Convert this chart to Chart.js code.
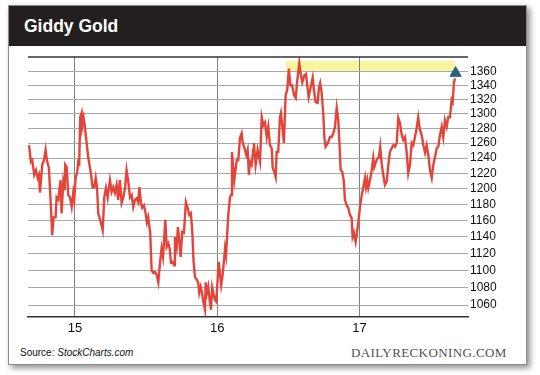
<!DOCTYPE html>
<html>
<head>
<meta charset="utf-8">
<script src="https://cdn.jsdelivr.net/npm/chart.js@4.4.1/dist/chart.umd.min.js"></script>
<style>
  body { margin: 0; background: #fff; width: 540px; height: 375px; position: relative; overflow: hidden; }
  .carte { position: absolute; left: 8px; top: 5px; width: 517px; height: 358px; border: 1px solid #8c8c8c;
           background: #fff; box-shadow: 3px 3px 6px rgba(0,0,0,0.45); }
  .entete { position: absolute; left: 0; top: 0; right: 0; height: 40px; background: #231f20; }
  .titre { position: absolute; left: 24px; top: 18px; font: bold 17.5px "Liberation Sans", Arial, sans-serif;
           line-height: 17.5px; color: #fff; }
  .source { position: absolute; left: 20px; top: 347px; font: 10px "Liberation Sans", Arial, sans-serif; color: #111; }
  .marque { position: absolute; left: 351px; top: 345px; font: 13px "Liberation Serif", "Times New Roman", serif;
            letter-spacing: 0.4px; color: #505050; }
  canvas { position: absolute; left: 0; top: 0; }
</style>
</head>
<body>
<div class="carte"><div class="entete"></div></div>
<div class="titre">Giddy Gold</div>
<div class="source">Source: <i>StockCharts.com</i></div>
<div class="marque">DAILYRECKONING.COM</div>
<canvas id="graphique-or" width="540" height="375"></canvas>
<script>
// Dates en années décimales (15 = 2015), prix de l'or en $
const dates = [
  14.677, 14.691, 14.700, 14.714, 14.726, 14.738, 14.747, 14.754, 14.770, 14.782,
  14.794, 14.803, 14.817, 14.831, 14.840, 14.850, 14.864, 14.871, 14.883, 14.892,
  14.899, 14.906, 14.918, 14.928, 14.932, 14.942, 14.953, 14.965, 14.977, 14.988,
  14.995, 15.005, 15.016, 15.023, 15.030, 15.037, 15.047, 15.051, 15.061, 15.070,
  15.082, 15.094, 15.105, 15.112, 15.124, 15.136, 15.146, 15.155, 15.164, 15.183,
  15.195, 15.206, 15.218, 15.230, 15.246, 15.258, 15.269, 15.281, 15.293, 15.304,
  15.316, 15.328, 15.340, 15.352, 15.363, 15.375, 15.387, 15.399, 15.410, 15.422,
  15.434, 15.445, 15.453, 15.464, 15.473, 15.485, 15.497, 15.506, 15.515, 15.529,
  15.539, 15.550, 15.562, 15.574, 15.586, 15.598, 15.609, 15.619, 15.628, 15.635,
  15.645, 15.656, 15.666, 15.675, 15.687, 15.698, 15.703, 15.715, 15.724, 15.733,
  15.743, 15.754, 15.766, 15.773, 15.780, 15.792, 15.804, 15.815, 15.825, 15.834,
  15.844, 15.858, 15.867, 15.874, 15.884, 15.893, 15.902, 15.914, 15.919, 15.928,
  15.937, 15.947, 15.956, 15.965, 15.975, 15.984, 15.993, 16.003, 16.010, 16.019,
  16.028, 16.038, 16.047, 16.055, 16.062, 16.069, 16.078, 16.090, 16.097, 16.104,
  16.111, 16.120, 16.137, 16.148, 16.160, 16.172, 16.179, 16.188, 16.195, 16.204,
  16.214, 16.223, 16.230, 16.242, 16.253, 16.258, 16.270, 16.284, 16.301, 16.313,
  16.324, 16.336, 16.348, 16.359, 16.371, 16.383, 16.390, 16.401, 16.411, 16.418,
  16.429, 16.441, 16.448, 16.457, 16.469, 16.481, 16.492, 16.504, 16.514, 16.526,
  16.540, 16.552, 16.563, 16.577, 16.589, 16.598, 16.612, 16.624, 16.633, 16.643,
  16.657, 16.671, 16.680, 16.692, 16.706, 16.715, 16.724, 16.734, 16.746, 16.753,
  16.762, 16.776, 16.793, 16.805, 16.816, 16.828, 16.840, 16.851, 16.861, 16.868,
  16.879, 16.889, 16.898, 16.910, 16.921, 16.933, 16.945, 16.952, 16.961, 16.973,
  16.980, 16.992, 17.004, 17.016, 17.027, 17.039, 17.046, 17.055, 17.062, 17.074,
  17.086, 17.097, 17.104, 17.116, 17.128, 17.137, 17.146, 17.156, 17.167, 17.179,
  17.191, 17.203, 17.214, 17.226, 17.238, 17.250, 17.262, 17.273, 17.285, 17.297,
  17.308, 17.320, 17.332, 17.343, 17.355, 17.367, 17.378, 17.390, 17.402, 17.413,
  17.425, 17.437, 17.449, 17.461, 17.472, 17.484, 17.496, 17.508, 17.519, 17.531,
  17.543, 17.554, 17.566, 17.578, 17.589, 17.601, 17.613, 17.624, 17.636, 17.648,
  17.655, 17.664, 17.671
];
const prix = [
  1257, 1235, 1237, 1218, 1224, 1214, 1218, 1195, 1231, 1237,
  1251, 1237, 1227, 1177, 1142, 1164, 1164, 1189, 1186, 1201,
  1211, 1169, 1209, 1198, 1231, 1228, 1192, 1189, 1177, 1195,
  1186, 1214, 1222, 1235, 1233, 1295, 1301, 1282, 1294, 1282,
  1260, 1240, 1228, 1220, 1202, 1202, 1214, 1202, 1169, 1157,
  1148, 1189, 1201, 1189, 1211, 1196, 1202, 1195, 1205, 1186,
  1211, 1182, 1189, 1201, 1224, 1209, 1189, 1192, 1177, 1186,
  1188, 1183, 1202, 1182, 1176, 1179, 1169, 1158, 1164, 1145,
  1100, 1097, 1098, 1095, 1086, 1109, 1126, 1116, 1140, 1161,
  1128, 1132, 1126, 1109, 1110, 1106, 1140, 1128, 1152, 1136,
  1116, 1146, 1145, 1164, 1183, 1176, 1167, 1169, 1146, 1110,
  1092, 1089, 1085, 1074, 1081, 1074, 1064, 1055, 1086, 1074,
  1081, 1066, 1055, 1080, 1072, 1066, 1064, 1089, 1110, 1097,
  1083, 1095, 1110, 1126, 1118, 1140, 1167, 1189, 1192, 1248,
  1231, 1211, 1237, 1237, 1267, 1273, 1261, 1255, 1251, 1244,
  1251, 1218, 1235, 1231, 1251, 1260, 1231, 1251, 1235, 1295,
  1284, 1288, 1268, 1282, 1257, 1253, 1227, 1222, 1215, 1248,
  1248, 1295, 1301, 1284, 1260, 1326, 1333, 1364, 1340, 1340,
  1326, 1322, 1347, 1372, 1354, 1344, 1354, 1356, 1340, 1323,
  1337, 1351, 1333, 1316, 1315, 1336, 1343, 1330, 1299, 1268,
  1255, 1259, 1268, 1268, 1273, 1282, 1308, 1291, 1253, 1224,
  1222, 1211, 1186, 1179, 1176, 1167, 1163, 1140, 1145, 1134,
  1142, 1158, 1177, 1192, 1202, 1214, 1202, 1211, 1201, 1211,
  1224, 1240, 1228, 1235, 1240, 1241, 1255, 1233, 1218, 1205,
  1209, 1231, 1248, 1253, 1257, 1255, 1260, 1294, 1287, 1271,
  1264, 1268, 1247, 1220, 1231, 1260, 1257, 1268, 1280, 1295,
  1278, 1271, 1257, 1247, 1257, 1244, 1224, 1214, 1231, 1241,
  1253, 1255, 1271, 1282, 1268, 1291, 1282, 1295, 1295, 1319,
  1316, 1343, 1350
];
const anneesTicks = [15, 16, 17];
const prixTicks = [1060, 1080, 1100, 1120, 1140, 1160, 1180, 1200, 1220, 1240,
                   1260, 1280, 1300, 1320, 1340, 1360];
// Bande jaune (zone des sommets) et flèche finale
const bandeDates = [16.483, 17.671];
const bandePrix = [1361, 1375];
const flecheDate = 17.676;
const flechePrix = 1357.5;

const points = dates.map((d, i) => ({ x: d, y: prix[i] }));

// Bande jaune dessinée avant la grille, ligne du haut après
const decor = {
  id: "decor",
  beforeDraw(chart) {
    const ctx = chart.ctx;
    const x = chart.scales.x, y = chart.scales.y;
    const x0 = x.getPixelForValue(bandeDates[0]), x1 = x.getPixelForValue(bandeDates[1]);
    const y0 = y.getPixelForValue(bandePrix[1]), y1 = y.getPixelForValue(bandePrix[0]);
    ctx.save();
    ctx.fillStyle = "#f8f59a";
    ctx.fillRect(x0, y0, x1 - x0, y1 - y0);
    ctx.restore();
  },
  afterDraw(chart) {
    const ctx = chart.ctx;
    const a = chart.chartArea;
    ctx.save();
    ctx.strokeStyle = "#333";
    ctx.lineWidth = 1.5;
    ctx.beginPath();
    ctx.moveTo(a.left, a.top);
    ctx.lineTo(a.right, a.top);
    ctx.stroke();
    ctx.restore();
  }
};

new Chart(document.querySelector("#graphique-or"), {
  type: "line",
  data: {
    datasets: [
      {
        label: "fleche",
        data: [{ x: flecheDate, y: flechePrix }],
        showLine: false,
        pointStyle: "triangle",
        pointRadius: 6.5,
        backgroundColor: "#2c5e7f",
        borderColor: "#2c5e7f",
        borderWidth: 1,
        order: 0,
        clip: false
      },
      {
        label: "Or",
        data: points,
        borderColor: "#e2453a",
        borderWidth: 2.4,
        pointRadius: 0,
        tension: 0,
        order: 1
      }
    ]
  },
  options: {
    responsive: false,
    animation: false,
    devicePixelRatio: 1,
    layout: { padding: { left: 28, top: 57, right: 0, bottom: 0 } },
    plugins: { legend: { display: false }, tooltip: { enabled: false } },
    scales: {
      x: {
        type: "linear",
        min: 14.670,
        max: 17.763,
        afterBuildTicks: (s) => { s.ticks = anneesTicks.map(v => ({ value: v })); },
        afterFit: (s) => { s.height = 58.3; },
        ticks: { callback: (v) => String(v), color: "#111", padding: 4, autoSkip: false,
                 maxRotation: 0, font: { family: "Liberation Sans", size: 13 } },
        grid: { color: "#808080", lineWidth: 1, drawTicks: false },
        border: { display: true, color: "#333", width: 1.5 }
      },
      y: {
        type: "logarithmic",
        position: "right",
        min: 1047,
        max: 1381,
        afterBuildTicks: (s) => { s.ticks = prixTicks.map(v => ({ value: v })); },
        afterFit: (s) => { s.width = 72; },
        ticks: { callback: (v) => String(v), color: "#111", padding: 2, autoSkip: false,
                 font: { family: "Liberation Sans", size: 12 } },
        grid: { color: "#a8a8a8", lineWidth: 1, drawTicks: false },
        border: { display: false }
      }
    }
  },
  plugins: [decor]
});
</script>
</body>
</html>
